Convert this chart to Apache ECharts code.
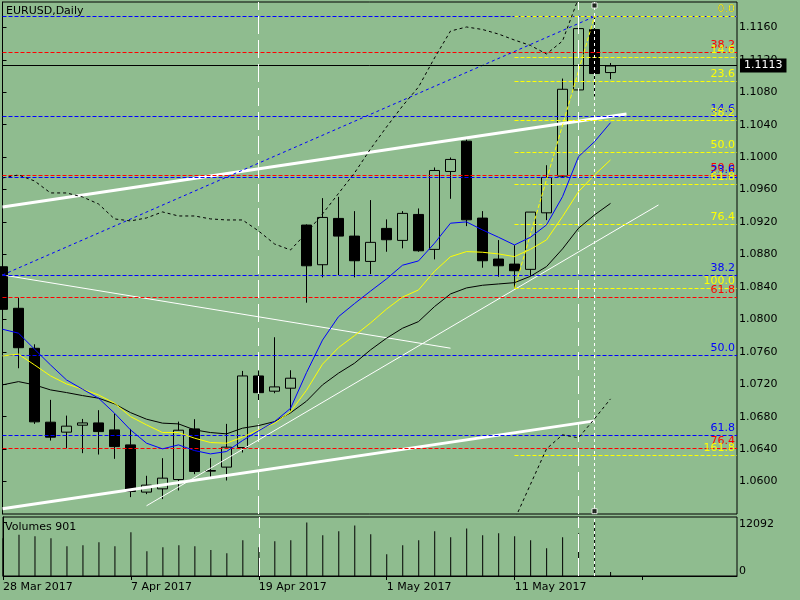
<!DOCTYPE html>
<html><head><meta charset="utf-8">
<script src="https://cdn.jsdelivr.net/npm/echarts@6/dist/echarts.min.js"></script>
<style>html,body{margin:0;padding:0;background:#8FBC8F;}#c{width:800px;height:600px;}</style>
</head><body><div id="c"></div>
<script>
const dates = ['28 Mar 2017','29 Mar 2017','30 Mar 2017','31 Mar 2017','3 Apr 2017','4 Apr 2017','5 Apr 2017','6 Apr 2017','7 Apr 2017','10 Apr 2017','11 Apr 2017','12 Apr 2017','13 Apr 2017','14 Apr 2017','17 Apr 2017','18 Apr 2017','19 Apr 2017','20 Apr 2017','21 Apr 2017','24 Apr 2017','25 Apr 2017','26 Apr 2017','27 Apr 2017','28 Apr 2017','1 May 2017','2 May 2017','3 May 2017','4 May 2017','5 May 2017','8 May 2017','9 May 2017','10 May 2017','11 May 2017','12 May 2017','15 May 2017','16 May 2017','17 May 2017','18 May 2017','19 May 2017'];
const opens = [1.08648,1.08136,1.07643,1.06732,1.06609,1.06695,1.06723,1.06637,1.06452,1.05870,1.05910,1.06025,1.06649,1.06128,1.06178,1.06420,1.07302,1.07114,1.07151,1.09162,1.08673,1.09244,1.09026,1.08714,1.09121,1.08973,1.09293,1.08862,1.09823,1.10196,1.09248,1.08743,1.08681,1.08616,1.09313,1.09765,1.10828,1.11572,1.11042];
const closes = [1.08123,1.07650,1.06736,1.06547,1.06683,1.06723,1.06616,1.06431,1.05878,1.05956,1.06042,1.06633,1.06124,1.06136,1.06424,1.07302,1.07096,1.07167,1.07274,1.08660,1.09256,1.09026,1.08722,1.08949,1.08981,1.09306,1.08845,1.09835,1.09971,1.09227,1.08722,1.08660,1.08599,1.09322,1.09749,1.10836,1.11584,1.11030,1.11123];
const lows = [1.08100,1.07397,1.06711,1.06505,1.06412,1.06350,1.06333,1.06280,1.05808,1.05845,1.05784,1.05890,1.06091,1.06050,1.06013,1.06358,1.06973,1.07089,1.06875,1.08205,1.08518,1.08546,1.08518,1.08558,1.08833,1.08875,1.08833,1.08739,1.09486,1.09149,1.08636,1.08525,1.08382,1.08534,1.09223,1.09756,1.10803,1.10750,1.10960];
const highs = [1.08700,1.08266,1.07692,1.07007,1.06813,1.06772,1.06880,1.06838,1.06649,1.06071,1.06288,1.06739,1.06769,1.06288,1.06711,1.07364,1.07367,1.07779,1.07372,1.09170,1.09494,1.09510,1.09334,1.09470,1.09232,1.09334,1.09367,1.09872,1.09995,1.10217,1.09334,1.08977,1.08915,1.09322,1.09900,1.10968,1.11620,1.11727,1.11160];
const volumes = [8500,9283,8908,8463,6681,6904,7572,6681,9799,5568,6458,6904,6681,5865,5122,8017,6458,7795,8017,12026,9131,10022,11358,9353,4899,6904,8017,10022,8685,10690,9131,9576,8908,8017,6236,8685,9576,12092,901];
const maBlue = [1.07878,1.07829,1.07632,1.07438,1.07253,1.07139,1.07028,1.06843,1.06637,1.06473,1.06403,1.06452,1.06382,1.06341,1.06370,1.06505,1.06625,1.06739,1.06902,1.07343,1.07744,1.08033,1.08194,1.08348,1.08498,1.08667,1.08720,1.08938,1.09185,1.09201,1.09102,1.09012,1.08917,1.09012,1.09164,1.09512,1.10005,1.10190,1.10424];
const maYellow = [1.07549,1.07570,1.07438,1.07303,1.07204,1.07139,1.07068,1.06966,1.06801,1.06699,1.06604,1.06604,1.06535,1.06481,1.06473,1.06547,1.06637,1.06720,1.06859,1.07126,1.07447,1.07651,1.07799,1.07955,1.08126,1.08274,1.08362,1.08592,1.08772,1.08835,1.08827,1.08806,1.08773,1.08864,1.08979,1.09266,1.09574,1.09780,1.09965];
const maBlack = [1.07192,1.07232,1.07192,1.07130,1.07097,1.07060,1.07028,1.06958,1.06850,1.06769,1.06720,1.06711,1.06637,1.06604,1.06588,1.06658,1.06690,1.06739,1.06847,1.06991,1.07192,1.07336,1.07459,1.07623,1.07767,1.07890,1.07972,1.08157,1.08313,1.08387,1.08420,1.08436,1.08452,1.08531,1.08650,1.08868,1.09123,1.09287,1.09429];
const bandUpper = [1.09743,1.09780,1.09706,1.09558,1.09558,1.09509,1.09422,1.09238,1.09213,1.09250,1.09324,1.09274,1.09274,1.09238,1.09225,1.09225,1.09090,1.08929,1.08855,1.09065,1.09299,1.09552,1.09804,1.10100,1.10371,1.10630,1.10864,1.11222,1.11554,1.11604,1.11573,1.11517,1.11443,1.11376,1.11271,1.11431,1.11961,1.12400,1.12550];
const bandLower = [null,null,null,null,null,null,null,null,null,null,null,null,null,null,null,null,null,null,null,null,null,null,null,null,null,null,null,null,null,null,null,1.05084,1.05528,1.05966,1.06403,1.06576,1.06539,1.06773,1.07019];
const fibYellowLevels = [1.06321,1.08380,1.09169,1.09662,1.10057,1.10451,1.10932,1.11228,1.11733];
const fibYellowLabels = ['161.8','100.0','76.4','61.8','50.0','38.2','23.6','14.6','0.0'];
const fibYellowStart = 32;
const fibBlueLevels = [1.11733,1.10500,1.09748,1.08540,1.07554,1.06568];
const fibBlueLabels = ['0.0','14.6','23.6','38.2','50.0','61.8'];
const fibRedLevels = [1.11289,1.09773,1.08269,1.06408];
const fibRedLabels = ['38.2','50.0','61.8','76.4'];
const lastPrice = 1.1113;
const fibYellowTrend = [[32,1.08380],[37,1.11733]];
const fibBlueTrend = [[0,1.08547],[37,1.11733]];
const channelUpper = [[0,1.09384],[39,1.10532]];
const channelLower = [[0,1.05664],[37,1.06748]];
const thinDown = [[0,1.08547],[28,1.07644]];
const thinUp = [[9,1.05701],[41,1.09410]];
const vLongDash = [16,36];
const vDotted = [37];
const selMarkers = [[37,1.11869],[37,1.05635]];
const priceTicks = {min:1.056, max:1.11912, step:0.004};
const volTicks = {min:0, max:13250, step:12092};

const XMAX = 45.906;
const font = 'DejaVu Sans';
const chart = echarts.init(document.getElementById('c'));

function hLine(v, color, text, startX){
  const ls = {color:color, type:[4,2], width:1};
  const lb = {show:true, formatter:text, position:'insideEndTop', color:color, fontFamily:font, fontSize:11, distance:[2,2]};
  const s = startX == null ? 0 : startX;
  return [{coord:[s,v], lineStyle:ls, label:lb},{coord:[XMAX,v], lineStyle:ls, label:lb}];
}
const noLabel = {show:false};
const levelLines = [];
fibRedLevels.forEach((v,i)=>levelLines.push(hLine(v,'#ff0000',fibRedLabels[i])));
fibBlueLevels.forEach((v,i)=>levelLines.push(hLine(v,'#0000ff',fibBlueLabels[i])));
fibYellowLevels.forEach((v,i)=>levelLines.push(hLine(v,'#ffff00',fibYellowLabels[i],fibYellowStart)));
levelLines.push([{coord:fibBlueTrend[0], lineStyle:{color:'#0000ff',type:[3,3],width:1}, label:noLabel},{coord:fibBlueTrend[1], lineStyle:{color:'#0000ff',type:[3,3],width:1}, label:noLabel}]);
levelLines.push([{coord:fibYellowTrend[0], lineStyle:{color:'#ffff00',type:[4,2],width:1}, label:noLabel},{coord:fibYellowTrend[1], lineStyle:{color:'#ffff00',type:[4,2],width:1}, label:noLabel}]);
const lpStyle = {color:'#000',type:'solid',width:1};
const lpLabel = {show:true, position:'end', formatter:lastPrice.toFixed(4), color:'#fff', backgroundColor:'#000', padding:[2,4,1,4], fontFamily:font, fontSize:11, distance:3};
levelLines.push([{coord:[0,lastPrice], lineStyle:lpStyle, label:lpLabel},{coord:[XMAX,lastPrice], lineStyle:lpStyle, label:lpLabel}]);

const vLines = [];
vLongDash.forEach(x=>vLines.push({xAxis:x, lineStyle:{color:'#fff',type:[18,6],width:1}, label:noLabel}));
vDotted.forEach(x=>vLines.push({xAxis:x, lineStyle:{color:'#fff',type:[3,3],width:1}, label:noLabel}));

const pairs = arr => arr.map((v,i)=>[i,v]).filter(p=>p[1]!=null);
const seg = (data,color,width,type,z) => ({type:'line', xAxisIndex:0, yAxisIndex:0, data:data, symbol:'none', silent:true, z:z, lineStyle:{color:color,width:width,type:type||'solid'}});

const option = {
  animation:false,
  backgroundColor:'#8FBC8F',
  title:[
    {text:'EURUSD,Daily', left:6, top:6, padding:0, textStyle:{fontSize:11, fontWeight:'normal', color:'#000', fontFamily:font}},
    {text:'Volumes 901', left:5, top:522, padding:0, textStyle:{fontSize:11, fontWeight:'normal', color:'#000', fontFamily:font}}
  ],
  grid:[
    {left:2.5, right:63, top:2, height:512, show:true, borderColor:'#000', borderWidth:1, backgroundColor:'transparent'},
    {left:2.5, right:63, top:517, height:59, show:true, borderColor:'#000', borderWidth:1, backgroundColor:'transparent'}
  ],
  xAxis:[
    {gridIndex:0, type:'value', min:0, max:XMAX, show:false},
    {gridIndex:1, type:'value', min:0, max:XMAX, interval:8,
     axisLine:{show:true, lineStyle:{color:'#000'}},
     axisTick:{show:true, length:4, lineStyle:{color:'#000'}},
     splitLine:{show:false},
     axisLabel:{formatter:v=>dates[v]||'', align:'left', color:'#000', fontFamily:font, fontSize:11, margin:6, showMaxLabel:false, showMinLabel:true}}
  ],
  yAxis:[
    {gridIndex:0, type:'value', position:'right', min:priceTicks.min, max:priceTicks.max, interval:priceTicks.step,
     axisLine:{show:true, lineStyle:{color:'#000'}},
     axisTick:{show:true, length:4, lineStyle:{color:'#000'}},
     splitLine:{show:false},
     axisLabel:{color:'#000', fontFamily:font, fontSize:11, margin:2, formatter:v=>v.toFixed(4), showMinLabel:false, showMaxLabel:false}},
    {gridIndex:1, type:'value', position:'right', min:volTicks.min, max:volTicks.max, interval:volTicks.step,
     axisLine:{show:true, lineStyle:{color:'#000'}},
     axisTick:{show:true, length:4, lineStyle:{color:'#000'}},
     splitLine:{show:false},
     axisLabel:{color:'#000', fontFamily:font, fontSize:11, margin:2, showMaxLabel:false,
       formatter:v=> v===0 ? '{lo|0}' : '{hi|'+v+'}',
       rich:{lo:{padding:[0,0,10,0], fontFamily:font, fontSize:11, color:'#000'}, hi:{padding:[3,0,0,0], fontFamily:font, fontSize:11, color:'#000'}}}}
  ],
  series:[
    {type:'line', name:'levels', xAxisIndex:0, yAxisIndex:0, data:[], z:1, silent:true,
     markLine:{silent:true, precision:6, symbol:['none','none'], animation:false, emphasis:{disabled:true}, data:levelLines.concat(vLines)}},
    {type:'candlestick', xAxisIndex:0, yAxisIndex:0, data:dates.map((d,i)=>[i,opens[i],closes[i],lows[i],highs[i]]),
     encode:{x:0, y:[1,2,3,4]}, barWidth:10, z:3, silent:true,
     itemStyle:{color:'transparent', color0:'#000', borderColor:'#000', borderColor0:'#000', borderWidth:1}},
    seg(channelUpper,'#ffffff',3,'solid',4),
    seg(channelLower,'#ffffff',3,'solid',4),
    seg(thinDown,'#ffffff',1,'solid',4),
    seg(thinUp,'#ffffff',1,'solid',4),
    seg(pairs(bandUpper),'#000000',1,[3,3],5),
    seg(pairs(bandLower),'#000000',1,[3,3],5),
    seg(pairs(maBlack),'#000000',1,'solid',5),
    seg(pairs(maYellow),'#ffff00',1,'solid',5),
    seg(pairs(maBlue),'#0000ff',1,'solid',5),
    {type:'scatter', xAxisIndex:0, yAxisIndex:0, data:selMarkers, symbol:'rect', symbolSize:5, z:6, silent:true,
     itemStyle:{color:'#000', borderColor:'#fff', borderWidth:1}},
    {type:'bar', xAxisIndex:1, yAxisIndex:1, data:pairs(volumes), barWidth:1, silent:true, z:3,
     itemStyle:{color:'#000'},
     markLine:{silent:true, precision:6, symbol:['none','none'], animation:false, data:vLines}}
  ]
};
chart.setOption(option);
</script>
</body></html>
